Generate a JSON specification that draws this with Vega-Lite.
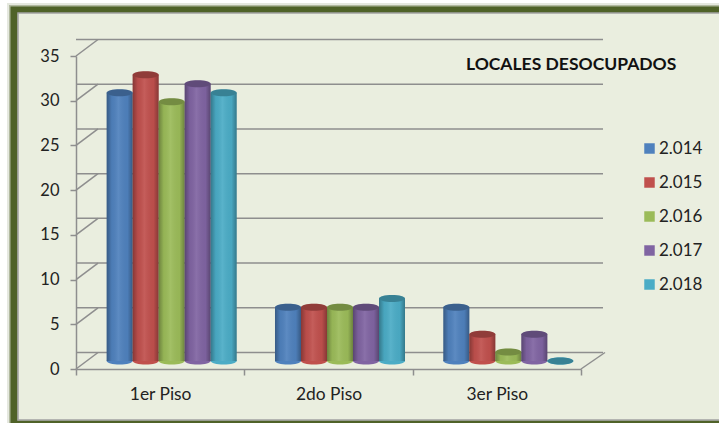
{
"$schema":"https://vega.github.io/schema/vega-lite/v6.json",
"width":505,"height":313,"autosize":"none",
"padding":{"left":76,"top":56,"right":138,"bottom":54},
"background":"#ffffff",
"title":{"text":"LOCALES DESOCUPADOS","orient":"top","anchor":"start","frame":"group","dx":390,"dy":74,"font":"Lato","fontSize":17.5,"fontWeight":"bold","color":"#111111"},
"config":{"view":{"stroke":null},"font":"Lato"},
"datasets":{
"rows":[
{"piso":"1er Piso","serie":"2.014","valor":30},{"piso":"1er Piso","serie":"2.015","valor":32},{"piso":"1er Piso","serie":"2.016","valor":29},{"piso":"1er Piso","serie":"2.017","valor":31},{"piso":"1er Piso","serie":"2.018","valor":30},
{"piso":"2do Piso","serie":"2.014","valor":6},{"piso":"2do Piso","serie":"2.015","valor":6},{"piso":"2do Piso","serie":"2.016","valor":6},{"piso":"2do Piso","serie":"2.017","valor":6},{"piso":"2do Piso","serie":"2.018","valor":7},
{"piso":"3er Piso","serie":"2.014","valor":6},{"piso":"3er Piso","serie":"2.015","valor":3},{"piso":"3er Piso","serie":"2.016","valor":1},{"piso":"3er Piso","serie":"2.017","valor":3},{"piso":"3er Piso","serie":"2.018","valor":0}],
"marcas":[{"v":0},{"v":5},{"v":10},{"v":15},{"v":20},{"v":25},{"v":30},{"v":35}]
},
"encoding":{
"y":{"field":"valor","type":"quantitative","scale":{"domain":[0,35],"nice":false}}
},
"layer":[
{"data":{"values":[{}]},"mark":{"type":"rect","fill":"#4F6228","fillOpacity":0,"stroke":"#4F6228","strokeWidth":14,"strokeOpacity":0.15},"encoding":{"x":{"value":-62},"x2":{"value":664},"y":{"value":-46},"y2":{"value":368}}},
{"data":{"values":[{}]},"mark":{"type":"rect","fill":"#4F6228","fillOpacity":0,"stroke":"#4F6228","strokeWidth":10,"strokeOpacity":0.35},"encoding":{"x":{"value":-62},"x2":{"value":664},"y":{"value":-46},"y2":{"value":368}}},
{"data":{"values":[{}]},"mark":{"type":"rect","fill":"#4F6228","fillOpacity":0,"stroke":"#4F6228","strokeWidth":7},"encoding":{"x":{"value":-62},"x2":{"value":664},"y":{"value":-46},"y2":{"value":368}}},
{"data":{"values":[{}]},"mark":{"type":"rect","fill":"#EAEEDF","stroke":"#A3A3A3","strokeWidth":1.5},"encoding":{"x":{"value":-58},"x2":{"value":660},"y":{"value":-43},"y2":{"value":364}}},
{"data":{"name":"marcas"},"mark":{"type":"rule","color":"#8E8E8E","strokeWidth":1.5,"xOffset":22,"x2Offset":24,"yOffset":-16.5},"encoding":{"y":{"field":"v","type":"quantitative","axis":{"title":null,"values":[0,5,10,15,20,25,30,35],"grid":false,"zindex":1,"domainColor":"#8E8E8E","domainWidth":1.5,"tickColor":"#8E8E8E","tickWidth":1.5,"tickSize":6,"labelPadding":11,"labelFont":"Lato","labelFontSize":16.5,"labelColor":"#222222"}}}},
{"data":{"name":"marcas"},"mark":{"type":"rule","color":"#8E8E8E","strokeWidth":1.5,"y2Offset":-16.5},"encoding":{"x":{"value":0},"x2":{"value":22},"y":{"field":"v","type":"quantitative"},"y2":{"field":"v"}}},
{"data":{"values":[{"v":0}]},"mark":{"type":"rule","color":"#8E8E8E","strokeWidth":1.5,"y2Offset":-16.5},"encoding":{"x":{"value":505},"x2":{"value":529},"y":{"field":"v","type":"quantitative"},"y2":{"field":"v"}}},
{"data":{"name":"rows"},"mark":{"type":"point","filled":true,"opacity":1,"shape":"M-1,0A1,0.27 0 1 0 1,0A1,0.27 0 1 0 -1,0Z","size":676,"yOffset":-8},
"encoding":{"x":{"field":"piso","type":"nominal","scale":{"paddingInner":0,"paddingOuter":0},"axis":{"title":null,"labelAngle":0,"tickBand":"extent","grid":false,"zindex":1,"domainColor":"#8E8E8E","domainWidth":1.5,"tickColor":"#8E8E8E","tickWidth":1.5,"tickSize":6,"labelPadding":10,"labelFont":"Lato","labelFontSize":17.4,"labelColor":"#222222"}},"xOffset":{"field":"serie","type":"nominal","scale":{"paddingInner":0,"paddingOuter":0.737,"align":0.8}},"y":{"datum":0,"type":"quantitative"},"color":{"field":"serie","type":"nominal","scale":{"range":["#4F81BD","#C0504D","#9BBB59","#8064A2","#4BACC6"]},"legend":{"title":null,"orient":"none","legendX":565,"legendY":84,"symbolType":"square","symbolSize":110,"symbolStrokeWidth":0,"symbolOpacity":1,"labelFont":"Lato","labelFontSize":17,"labelColor":"#222222","labelOffset":1,"rowPadding":16}}}},
{"data":{"name":"rows"},"transform":[{"filter":"datum.valor > 0"}],"mark":{"type":"bar","yOffset":-8,"y2Offset":-8},"encoding":{"x":{"field":"piso","type":"nominal"},"xOffset":{"field":"serie","type":"nominal"},"y":{"field":"valor","type":"quantitative"},"color":{"field":"serie","type":"nominal"}}},
{"data":{"name":"rows"},"transform":[{"filter":"datum.valor > 0"}],"mark":{"type":"bar","yOffset":-8,"y2Offset":-8,"fill":{"gradient":"linear","x1":0,"y1":0,"x2":1,"y2":0,"stops":[{"offset":0,"color":"rgba(0,0,0,0.3)"},{"offset":0.2,"color":"rgba(0,0,0,0.04)"},{"offset":0.45,"color":"rgba(255,255,255,0.08)"},{"offset":0.8,"color":"rgba(0,0,0,0.03)"},{"offset":1,"color":"rgba(0,0,0,0.3)"}]}},"encoding":{"x":{"field":"piso","type":"nominal"},"xOffset":{"field":"serie","type":"nominal"},"y":{"field":"valor","type":"quantitative"}}},
{"data":{"name":"rows"},"mark":{"type":"point","filled":true,"opacity":1,"shape":"M-1,0A1,0.27 0 1 0 1,0A1,0.27 0 1 0 -1,0Z","size":676,"yOffset":-8},"encoding":{"x":{"field":"piso","type":"nominal"},"xOffset":{"field":"serie","type":"nominal"},"y":{"field":"valor","type":"quantitative"},"color":{"field":"serie","type":"nominal"}}},
{"data":{"name":"rows"},"mark":{"type":"point","filled":true,"fill":"#000000","opacity":0.25,"shape":"M-1,0A1,0.27 0 1 0 1,0A1,0.27 0 1 0 -1,0Z","size":676,"yOffset":-8},"encoding":{"x":{"field":"piso","type":"nominal"},"xOffset":{"field":"serie","type":"nominal"},"y":{"field":"valor","type":"quantitative"}}}
]
}
